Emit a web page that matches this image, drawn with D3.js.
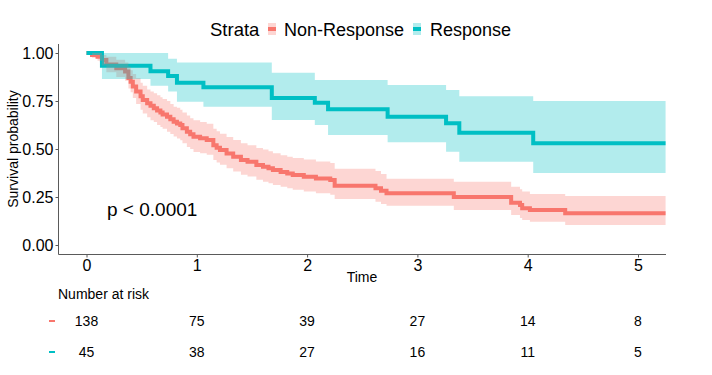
<!DOCTYPE html>
<html>
<head>
<meta charset="utf-8">
<script src="https://cdn.jsdelivr.net/npm/d3@7/dist/d3.min.js"></script>
<style>
  html, body { margin: 0; padding: 0; background: #ffffff; }
  svg { display: block; font-family: "Liberation Sans", Arial, Helvetica, sans-serif; }
</style>
</head>
<body>
<svg id="chart" width="712" height="375"></svg>
<script>
// ---------- data ----------
const strata = ["Non-Response", "Response"];
const seriesColors = ["#F8766D", "#00BFC4"];
const endTime = 5.25;

const nrTime  = [0, 0.05, 0.10, 0.14, 0.18, 0.27, 0.35, 0.38, 0.40, 0.42, 0.45, 0.49, 0.51, 0.55, 0.58, 0.61, 0.64, 0.67, 0.69, 0.73, 0.76, 0.79, 0.82, 0.85, 0.87, 0.91, 0.94, 0.97, 1.03, 1.09, 1.15, 1.18, 1.21, 1.27, 1.33, 1.40, 1.46, 1.54, 1.60, 1.65, 1.69, 1.76, 1.82, 1.87, 1.97, 2.08, 2.21, 2.25, 2.62, 2.67, 2.72, 3.33, 3.85, 3.93, 3.95, 4.02, 4.34];
const nrSurv  = [1, 0.99, 0.98, 0.964, 0.94, 0.92, 0.903, 0.87, 0.85, 0.825, 0.80, 0.775, 0.755, 0.738, 0.725, 0.712, 0.70, 0.69, 0.68, 0.668, 0.655, 0.642, 0.633, 0.625, 0.608, 0.59, 0.577, 0.564, 0.556, 0.547, 0.52, 0.507, 0.495, 0.477, 0.46, 0.443, 0.434, 0.417, 0.408, 0.40, 0.39, 0.38, 0.373, 0.365, 0.356, 0.347, 0.339, 0.308, 0.295, 0.282, 0.269, 0.25, 0.22, 0.208, 0.191, 0.182, 0.165];
const nrUpper = [1, 1, 1, 0.99, 0.98, 0.965, 0.95, 0.93, 0.91, 0.89, 0.87, 0.845, 0.83, 0.81, 0.80, 0.79, 0.78, 0.77, 0.76, 0.75, 0.735, 0.72, 0.715, 0.705, 0.69, 0.675, 0.66, 0.65, 0.64, 0.632, 0.605, 0.593, 0.58, 0.563, 0.547, 0.53, 0.52, 0.505, 0.497, 0.488, 0.478, 0.468, 0.46, 0.453, 0.445, 0.435, 0.427, 0.397, 0.385, 0.37, 0.345, 0.33, 0.304, 0.29, 0.278, 0.266, 0.255];
const nrLower = [1, 0.975, 0.96, 0.935, 0.90, 0.875, 0.855, 0.815, 0.795, 0.765, 0.735, 0.705, 0.685, 0.665, 0.65, 0.64, 0.625, 0.615, 0.605, 0.59, 0.578, 0.565, 0.555, 0.545, 0.53, 0.51, 0.50, 0.485, 0.478, 0.47, 0.443, 0.43, 0.418, 0.40, 0.383, 0.366, 0.357, 0.34, 0.33, 0.322, 0.313, 0.303, 0.296, 0.288, 0.279, 0.27, 0.262, 0.24, 0.225, 0.213, 0.205, 0.182, 0.156, 0.14, 0.13, 0.121, 0.104];

const rTime  = [0, 0.14, 0.58, 0.74, 0.82, 1.06, 1.68, 2.07, 2.19, 2.73, 3.26, 3.38, 4.05];
const rSurv  = [1, 0.933, 0.905, 0.88, 0.845, 0.822, 0.766, 0.741, 0.707, 0.668, 0.634, 0.585, 0.53];
const rUpper = [1, 1, 1, 0.97, 0.95, 0.95, 0.897, 0.859, 0.859, 0.833, 0.807, 0.775, 0.75];
const rLower = [1, 0.865, 0.83, 0.80, 0.746, 0.72, 0.651, 0.625, 0.573, 0.535, 0.486, 0.434, 0.375];

const xTicks = [0, 1, 2, 3, 4, 5];
const yTicks = [0, 0.25, 0.5, 0.75, 1];
const riskNonResponse = [138, 75, 39, 27, 14, 8];
const riskResponse    = [45, 38, 27, 16, 11, 5];
const pText = "p < 0.0001";

// ---------- build ----------
function makeSeries(t, s, u, l) {
  const pts = t.map((d, i) => ({ t: d, s: s[i], u: u[i], l: l[i] }));
  const last = pts[pts.length - 1];
  pts.push({ t: endTime, s: last.s, u: last.u, l: last.l });
  return pts;
}
const series = [
  makeSeries(nrTime, nrSurv, nrUpper, nrLower),
  makeSeries(rTime, rSurv, rUpper, rLower)
];

const svg = d3.select("#chart");
const x = d3.scaleLinear().domain([0, 5]).range([86.5, 638]);
const y = d3.scaleLinear().domain([0, 1]).range([245, 53]);
const panel = { left: 58.5, right: 666, top: 44, bottom: 254.5 };

const line = d3.line().x(d => x(d.t)).y(d => y(d.s)).curve(d3.curveStepAfter);
const area = d3.area().x(d => x(d.t)).y0(d => y(d.l)).y1(d => y(d.u)).curve(d3.curveStepAfter);

series.forEach((pts, i) => {
  svg.append("path").datum(pts).attr("d", line)
    .attr("fill", "none").attr("stroke", seriesColors[i]).attr("stroke-width", 4);
});
series.forEach((pts, i) => {
  svg.append("path").datum(pts).attr("d", area)
    .attr("fill", seriesColors[i]).attr("fill-opacity", 0.3).attr("stroke", "none");
});

// axes
const axisColor = "#5a5a5a";
const yAxis = svg.append("g").attr("transform", `translate(${panel.left},0)`)
  .call(d3.axisLeft(y).tickValues(yTicks).tickFormat(d3.format(".2f")).tickSize(3).tickPadding(2));
const xAxis = svg.append("g").attr("transform", `translate(0,${panel.bottom})`)
  .call(d3.axisBottom(x).tickValues(xTicks).tickFormat(d3.format("d")).tickSize(3).tickPadding(2));
[yAxis, xAxis].forEach(g => {
  g.select(".domain").remove();
  g.selectAll("line").attr("stroke", axisColor);
  g.selectAll("text").attr("fill", "#000").attr("font-size", 16)
    .attr("font-family", "'Liberation Sans', Arial, sans-serif");
});
svg.append("line").attr("x1", panel.left).attr("x2", panel.left)
  .attr("y1", panel.top).attr("y2", panel.bottom).attr("stroke", axisColor);
svg.append("line").attr("x1", panel.left).attr("x2", panel.right)
  .attr("y1", panel.bottom).attr("y2", panel.bottom).attr("stroke", axisColor);

// axis titles
svg.append("text").attr("x", 362).attr("y", 282).attr("text-anchor", "middle")
  .attr("font-size", 14).text("Time");
svg.append("text").attr("transform", "translate(18,149) rotate(-90)")
  .attr("text-anchor", "middle").attr("font-size", 14).text("Survival probability");

// p-value
svg.append("text").attr("x", 107).attr("y", 216).attr("font-size", 19).text(pText);

// legend
const legendY = 29;
svg.append("text").attr("x", 210).attr("y", legendY + 7).attr("font-size", 18.5).text("Strata");
const legendItems = [
  { key: 268, label: 284 },
  { key: 413, label: 430 }
];
strata.forEach((name, i) => {
  const it = legendItems[i];
  svg.append("rect").attr("x", it.key).attr("y", legendY - 6).attr("width", 8).attr("height", 12)
    .attr("fill", seriesColors[i]).attr("fill-opacity", 0.3);
  svg.append("rect").attr("x", it.key).attr("y", legendY - 2).attr("width", 8).attr("height", 4)
    .attr("fill", seriesColors[i]);
  svg.append("text").attr("x", it.label).attr("y", legendY + 7).attr("font-size", 18).text(name);
});

// risk table
svg.append("text").attr("x", 58).attr("y", 299).attr("font-size", 14).text("Number at risk");
const riskRows = [riskNonResponse, riskResponse];
const rowY = [321, 352];
riskRows.forEach((row, i) => {
  svg.append("rect").attr("x", 49).attr("y", rowY[i] - 1).attr("width", 6).attr("height", 2)
    .attr("fill", seriesColors[i]);
  svg.selectAll(null).data(row).enter().append("text")
    .attr("x", (d, j) => x(xTicks[j])).attr("y", rowY[i] + 5)
    .attr("text-anchor", "middle").attr("font-size", 14).text(d => d);
});
</script>
</body>
</html>
